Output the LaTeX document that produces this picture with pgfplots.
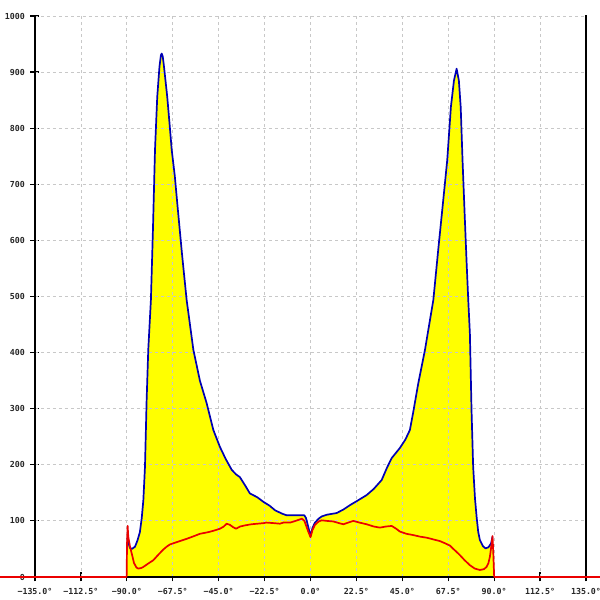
\documentclass[border=0pt]{standalone}
\usepackage{pgfplots}
\pgfplotsset{compat=1.18}
\usepackage{fontspec}
\setmonofont{DejaVu Sans Mono}
\definecolor{curveblue}{RGB}{0,0,180}
\definecolor{curvered}{RGB}{235,0,0}
\definecolor{gridgray}{RGB}{200,200,200}
\definecolor{fillyellow}{RGB}{255,255,0}
\begin{document}
\begin{tikzpicture}
\begin{axis}[
  scale only axis, width=600pt, height=600pt,
  x filter/.expression={x+135},
  xmin=-17.15, xmax=276.86, ymin=-41, ymax=1028.5,
  axis x line=middle, axis y line=middle,
  axis line style={draw=none,-},
  hide obscured x ticks=false, hide obscured y ticks=false,
  xtick={0,22.5,...,270},
  xticklabels={−135.0°,−112.5°,−90.0°,−67.5°,−45.0°,−22.5°,0.0°,22.5°,45.0°,67.5°,90.0°,112.5°,135.0°},
  ytick={0,100,...,1000},
  yticklabels={0,100,200,300,400,500,600,700,800,900,1000},
  tick align=center, major tick length=9pt,
  tick style={black, line width=1.2pt},
  minor tick num=0,
  xticklabel style={font=\ttfamily\bfseries\fontsize{8.3}{9}\selectfont, text=black!85, anchor=north, yshift=-3pt},
  yticklabel style={font=\ttfamily\bfseries\fontsize{8.3}{9}\selectfont, text=black!85, anchor=east, xshift=-2pt},
  grid=none,
]
\coordinate (bl) at (rel axis cs:0,0);
\coordinate (tr) at (rel axis cs:1,1);
% yellow area under the blue curve
\addplot[fill=fillyellow, draw=none] coordinates {
(-90.1,0) (-90.0,70) (-89.8,70) (-89.3,62) (-88.5,52) (-87.5,50) (-86.0,54) (-84.8,65) (-83.6,80) (-82.7,105)
(-81.9,137) (-81.1,197) (-80.3,315) (-79.5,405) (-78.2,494) (-77.2,620) (-76.2,761) (-75.1,856)
(-74.0,910) (-73.3,930) (-72.9,933) (-72.4,928) (-71.8,910) (-70.2,856) (-69.0,805) (-68.0,761)
(-66.5,715) (-65.0,655) (-63.0,577) (-60.7,494) (-57.4,405) (-54.2,350) (-50.9,310) (-47.6,262)
(-44.4,232) (-41.5,210) (-38.6,191) (-36.5,183) (-34.6,178) (-32,163) (-29.7,149) (-26,142)
(-23.1,134) (-20,127) (-17.4,119) (-14,113) (-11.7,110) (-8,110) (-5,110) (-3,110) (-2.2,105)
(-1,88) (0,73) (1,88) (2.2,97) (4,104) (5.5,108) (8,111) (12.8,114) (16,120) (19.3,128) (23,136)
(27.5,146) (31,157) (34.9,173) (37.5,195) (39.8,212) (43.8,230) (46.5,245) (48.7,262) (50.4,295)
(52.8,345) (56.1,405) (60.2,494) (62.5,580) (65,670) (67,743) (68.8,838) (70.3,885) (71.6,906)
(72.7,885) (73.6,838) (74.5,743) (75.5,650) (76.5,560) (77.3,494) (78.1,434) (78.9,298) (79.7,197)
(80.6,140) (81.4,107) (82.2,80) (83.0,66) (84.5,55) (85.8,51) (87.2,53) (88.5,60) (89.2,72) (90,40) (90.1,0)
} \closedcycle;
% grid
\pgfplotsinvokeforeach{-112.5,-90,-67.5,-45,-22.5,0,22.5,45,67.5,90,112.5}{
  \addplot[gridgray, line width=0.8pt, dash pattern=on 3pt off 3pt] coordinates {(#1,0) (#1,1000)};
}
\pgfplotsinvokeforeach{100,200,300,400,500,600,700,800,900,1000}{
  \addplot[gridgray, line width=0.8pt, dash pattern=on 3pt off 3pt] coordinates {(-135,#1) (135,#1)};
}
% axis lines
\addplot[black, line width=1.6pt] coordinates {(-152.2,0) (141.9,0)};
\addplot[black, line width=1.6pt] coordinates {(-135,1001) (-135,0)};
\addplot[black, line width=1.6pt] coordinates {(135,1001) (135,0)};
% blue curve
\addplot[curveblue, line width=1.7pt, line join=round] coordinates {
(-89.8,70) (-89.3,62) (-88.5,52) (-87.5,50) (-86.0,54) (-84.8,65) (-83.6,80) (-82.7,105)
(-81.9,137) (-81.1,197) (-80.3,315) (-79.5,405) (-78.2,494) (-77.2,620) (-76.2,761) (-75.1,856)
(-74.0,910) (-73.3,930) (-72.9,933) (-72.4,928) (-71.8,910) (-70.2,856) (-69.0,805) (-68.0,761)
(-66.5,715) (-65.0,655) (-63.0,577) (-60.7,494) (-57.4,405) (-54.2,350) (-50.9,310) (-47.6,262)
(-44.4,232) (-41.5,210) (-38.6,191) (-36.5,183) (-34.6,178) (-32,163) (-29.7,149) (-26,142)
(-23.1,134) (-20,127) (-17.4,119) (-14,113) (-11.7,110) (-8,110) (-5,110) (-3,110) (-2.2,105)
(-1,88) (0,73) (1,88) (2.2,97) (4,104) (5.5,108) (8,111) (12.8,114) (16,120) (19.3,128) (23,136)
(27.5,146) (31,157) (34.9,173) (37.5,195) (39.8,212) (43.8,230) (46.5,245) (48.7,262) (50.4,295)
(52.8,345) (56.1,405) (60.2,494) (62.5,580) (65,670) (67,743) (68.8,838) (70.3,885) (71.6,906)
(72.7,885) (73.6,838) (74.5,743) (75.5,650) (76.5,560) (77.3,494) (78.1,434) (78.9,298) (79.7,197)
(80.6,140) (81.4,107) (82.2,80) (83.0,66) (84.5,55) (85.8,51) (87.2,53) (88.5,60) (89.2,72)
};
% red curve
\addplot[curvered, line width=1.7pt, line join=round] coordinates {
(-152.2,0) (-90.1,0) (-89.9,60) (-89.6,91) (-89.3,72) (-88.5,55) (-87.6,42) (-86.5,25) (-85.3,17)
(-84.4,15) (-83,16) (-81.9,18) (-79.5,24) (-77,30) (-74.5,40) (-72.1,49) (-70.5,54) (-68.9,58)
(-66.5,61) (-64,64) (-60.7,68) (-57,73) (-54.2,77) (-50,80) (-47,83) (-44.4,86) (-42.5,90)
(-41.1,95) (-39.5,93) (-38,89) (-36.5,86) (-34.5,90) (-32.1,92) (-29,94) (-26,95) (-23,96)
(-21.5,97) (-18,96) (-15,95) (-13.3,97) (-10,97) (-7.3,100) (-4.2,104) (-3,100) (-2.2,92)
(-1,80) (0,71) (1,84) (2.2,93) (4,99) (5.5,101) (8,100) (11.2,99) (14,96) (16.1,94) (18.5,97)
(21,100) (24,97) (27.5,94) (31,90) (34,88) (37,90) (39.8,91) (42,86) (43.8,81) (47,77) (50,75)
(53.6,72) (57,70) (60.2,67) (63.4,64) (66,60) (68.3,56) (70,50) (71.5,45) (73.2,39) (75.5,30)
(78.1,21) (80.5,15) (83,12.5) (85,14) (86.3,18) (87.2,25) (87.9,36) (88.6,55) (89.2,73)
(89.6,40) (90,0) (141.9,0)
};
\end{axis}
\pgfresetboundingbox
\path (bl) rectangle (tr);
\end{tikzpicture}
\end{document}
